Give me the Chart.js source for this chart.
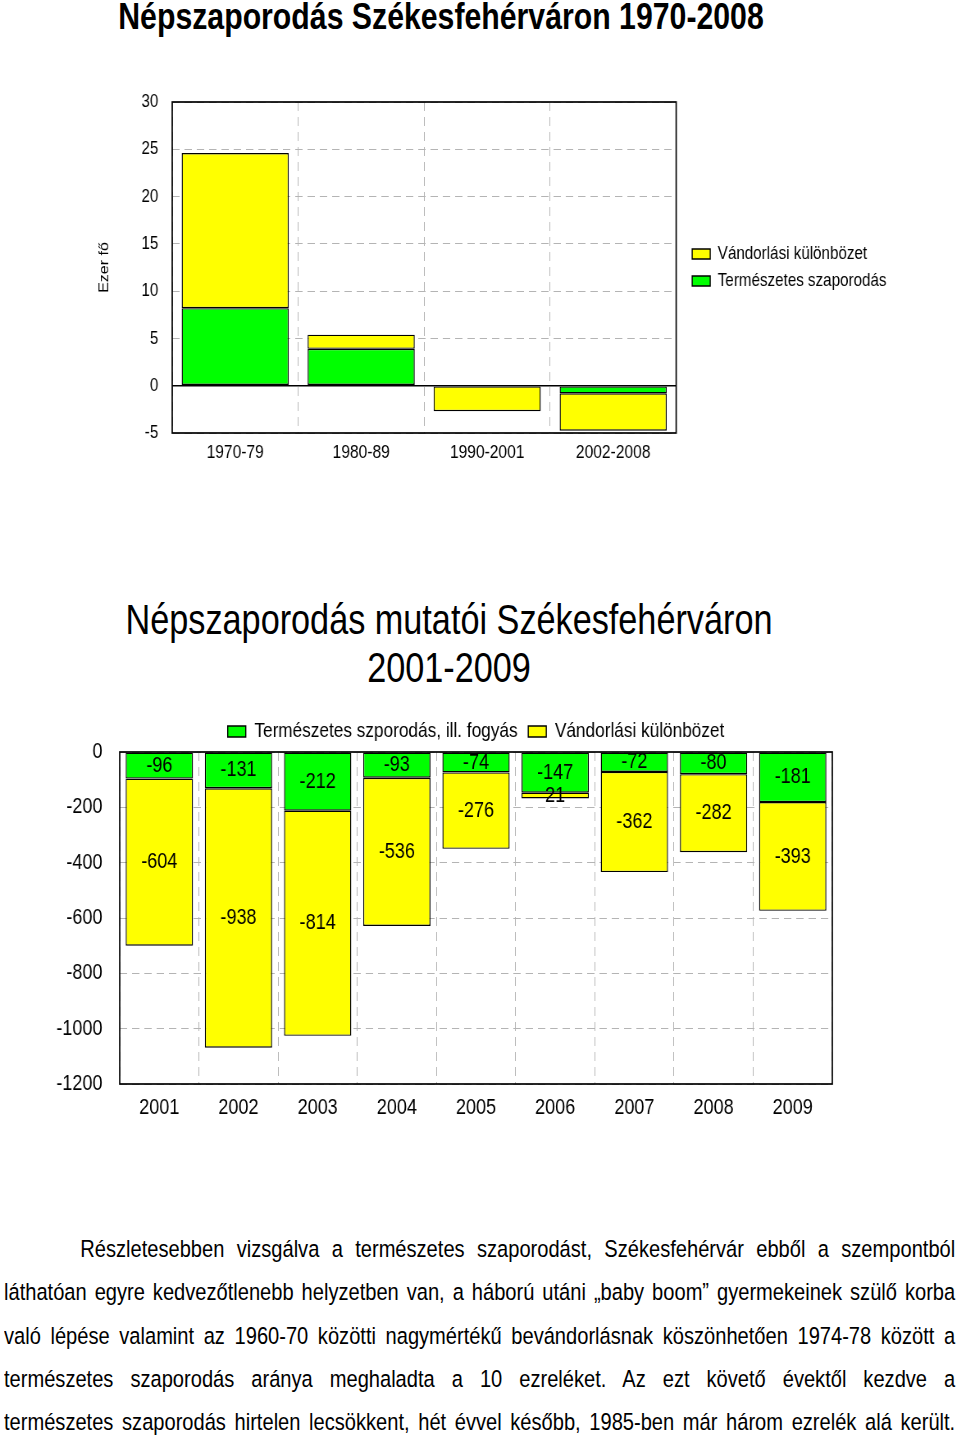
<!DOCTYPE html>
<html>
<head>
<meta charset="utf-8">
<script src="https://cdn.jsdelivr.net/npm/chart.js@4.4.1/dist/chart.umd.min.js"></script>
<style>
  body { margin: 0; background: #fff; width: 960px; height: 1436px; position: relative; overflow: hidden; }
  .abs { position: absolute; }
  .narrow { font-family: 'Liberation Sans', Arial, sans-serif; color: #000; white-space: nowrap; }
  /* no narrow face installed: squeeze regular Liberation Sans sideways */
  .squeeze { transform-origin: 0 0; transform: scaleX(0.82); }
  #title1 { left: 0; width: 882px; top: -1px; text-align: center; font-size: 36px; font-weight: bold; line-height: 36px; transform: scaleX(0.84); }
  #title2 { left: 0; width: 898px; top: 596px; text-align: center; font-size: 42px; line-height: 48px; transform: scaleX(0.815); }
  #text { left: 4px; width: 1160px; top: 1227px; font-size: 24.5px; line-height: 43.3px; }
  #text div { text-align: justify; text-align-last: justify; }
</style>
</head>
<body>
<div id="title1" class="abs narrow">Népszaporodás Székesfehérváron 1970-2008</div>
<div class="abs squeeze" style="left:0;top:80px;width:1171px;height:393px"><canvas id="c1" width="1171" height="393"></canvas></div>

<div id="title2" class="abs narrow">Népszaporodás mutatói Székesfehérváron<br>2001-2009</div>
<div class="abs squeeze" style="left:0;top:708px;width:1171px;height:422px"><canvas id="c2" width="1171" height="422"></canvas></div>

<div id="text" class="abs narrow squeeze">
  <div style="text-indent:93px">Részletesebben vizsgálva a természetes szaporodást, Székesfehérvár ebből a szempontból</div>
  <div>láthatóan egyre kedvezőtlenebb helyzetben van, a háború utáni „baby boom” gyermekeinek szülő korba</div>
  <div>való lépése valamint az 1960-70 közötti nagymértékű bevándorlásnak köszönhetően 1974-78 között a</div>
  <div>természetes szaporodás aránya meghaladta a 10 ezreléket. Az ezt követő évektől kezdve a</div>
  <div>természetes szaporodás hirtelen lecsökkent, hét évvel később, 1985-ben már három ezrelék alá került.</div>
</div>

<script>
const FONT_FAMILY = "'Liberation Sans', Arial, sans-serif";
const GREEN  = '#00ff00';
const YELLOW = '#ffff00';
const gridGray = '#b4b4b4';
const DASH = [9, 6];

// chart 1: 1970-2008, ezer fő
const periods       = ['1970-79', '1980-89', '1990-2001', '2002-2008'];
const natIncrease   = [8.2, 3.9, 0, -0.8];
const migrationDiff = [16.4, 1.5, -2.7, -3.95];

// chart 2: 2001-2009, fő
const years          = ['2001', '2002', '2003', '2004', '2005', '2006', '2007', '2008', '2009'];
const natChange      = [-96, -131, -212, -93, -74, -147, -72, -80, -181];
const migration      = [-604, -938, -814, -536, -276, -21, -362, -282, -393];
const migrationLabel = ['-604', '-938', '-814', '-536', '-276', '21', '-362', '-282', '-393'];

Chart.defaults.font.family = FONT_FAMILY;
Chart.defaults.color = '#000';
Chart.defaults.animation = false;

// black frame round the plot area
const frame = {
  id: 'frame',
  afterDatasetsDraw(chart) {
    const { ctx, chartArea: a } = chart;
    ctx.save();
    ctx.strokeStyle = '#000';
    ctx.lineWidth = 1.7;
    ctx.strokeRect(a.left, a.top, a.right - a.left, a.bottom - a.top);
    ctx.restore();
  },
};

// push a side legend a little away from the plot
const legendNudge = {
  id: 'legendNudge',
  afterLayout(chart, args, opts) {
    chart.legend.left += opts.dx;
    chart.legend.right += opts.dx;
  },
};

// value labels in the middle of each segment
const segLabels = {
  id: 'segLabels',
  afterDatasetsDraw(chart, args, opts) {
    const { ctx } = chart;
    ctx.save();
    ctx.font = opts.size + 'px ' + FONT_FAMILY;
    ctx.fillStyle = '#000';
    ctx.textAlign = 'center';
    ctx.textBaseline = 'middle';
    chart.data.datasets.forEach((ds, i) => {
      chart.getDatasetMeta(i).data.forEach((bar, j) => {
        const y = (bar.y + bar.base) / 2;
        ctx.fillText(ds.labels ? ds.labels[j] : String(ds.data[j]), bar.x, y);
      });
    });
    ctx.restore();
  },
};

const barStyle = { borderColor: '#000', borderWidth: 1.4, borderSkipped: false, barPercentage: 0.85, categoryPercentage: 1 };

new Chart(document.getElementById('c1'), {
  type: 'bar',
  data: {
    labels: periods,
    datasets: [
      { label: 'Természetes szaporodás', data: natIncrease,   backgroundColor: GREEN,  ...barStyle },
      { label: 'Vándorlási különbözet',  data: migrationDiff, backgroundColor: YELLOW, ...barStyle },
    ],
  },
  options: {
    responsive: false,
    layout: { padding: { top: 22, right: 91, left: 0, bottom: 0 } },
    plugins: {
      legend: {
        position: 'right',
        fullSize: false,
        reverse: true,
        labels: { boxWidth: 22, boxHeight: 10, padding: 8.5, font: { size: 18.5 }, color: '#000' },
      },
      legendNudge: { dx: 11 },
      tooltip: { enabled: false },
    },
    scales: {
      x: {
        stacked: true,
        grid: { color: gridGray, drawTicks: false },
        border: { display: false, dash: DASH },
        ticks: { font: { size: 19 }, padding: 8 },
        afterFit: s => { s.height = 40; },
      },
      y: {
        stacked: true,
        min: -5, max: 30,
        grid: { drawTicks: false, color: c => c.tick.value === 0 ? '#000' : gridGray, lineWidth: c => c.tick.value === 0 ? 1.5 : 1 },
        border: { display: false, dash: c => c.tick && c.tick.value === 0 ? [] : DASH },
        ticks: { stepSize: 5, font: { size: 18.5 }, padding: 17 },
        title: { display: true, text: 'Ezer fő', font: { size: 16 }, padding: { top: 118, bottom: 0 } },
        afterFit: s => { s.width = 210; s.paddingTop = 0; },
      },
    },
  },
  plugins: [frame, legendNudge],
});

new Chart(document.getElementById('c2'), {
  type: 'bar',
  data: {
    labels: years,
    datasets: [
      { label: 'Természetes szporodás, ill. fogyás', data: natChange, backgroundColor: GREEN, ...barStyle },
      { label: 'Vándorlási különbözet', data: migration, labels: migrationLabel, backgroundColor: YELLOW, ...barStyle },
    ],
  },
  options: {
    responsive: false,
    layout: { padding: { top: 0, right: 156, left: 0, bottom: 0 } },
    plugins: {
      legend: {
        position: 'top',
        fullSize: false,
        labels: { boxWidth: 22, boxHeight: 11, padding: 13, font: { size: 21 }, color: '#000' },
      },
      tooltip: { enabled: false },
      segLabels: { size: 22 },
    },
    scales: {
      x: {
        stacked: true,
        grid: { color: gridGray, drawTicks: false },
        border: { display: false, dash: DASH },
        ticks: { font: { size: 22 }, padding: 11 },
        afterFit: s => { s.height = 46; },
      },
      y: {
        stacked: true,
        min: -1200, max: 0,
        grid: { drawTicks: false, color: gridGray },
        border: { display: false, dash: DASH },
        ticks: { stepSize: 200, font: { size: 22 }, padding: 21, callback: v => String(v) },
        afterFit: s => { s.width = 146; },
      },
    },
  },
  plugins: [frame, segLabels],
});
</script>
</body>
</html>
